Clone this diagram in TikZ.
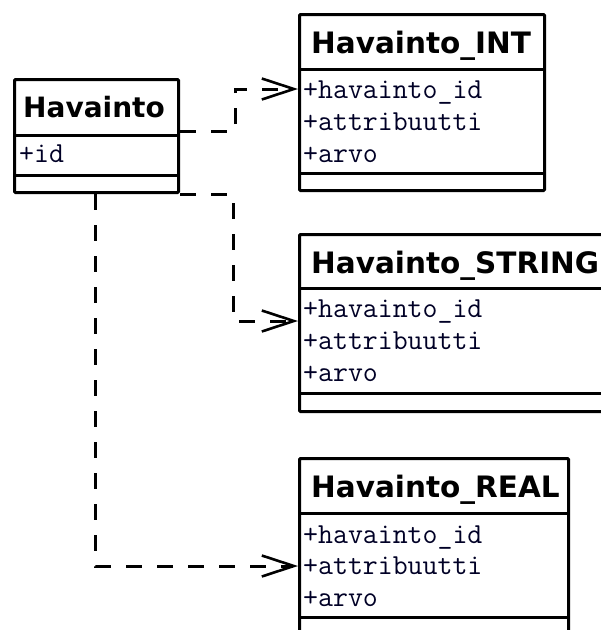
\documentclass[tikz,border=0pt]{standalone}
\usepackage{fontspec}
\setmainfont{DejaVu Sans}
\usetikzlibrary{arrows.meta}
\begin{document}
\begin{tikzpicture}[x=1pt,y=-1pt,
  classbox/.style={draw,line width=3pt,rounded corners=1pt,rectangle,inner sep=0pt,anchor=north west},
  sepline/.style={line width=3pt},
  title/.style={anchor=base west,inner sep=0pt,font=\fontsize{29.5}{31}\selectfont\bfseries},
  maintitle/.style={title,font=\fontsize{28}{30}\selectfont\bfseries},
  attr/.style={anchor=base west,inner sep=0pt,font=\ttfamily\fontsize{29}{31}\selectfont,text=black!85!blue},
  dep/.style={line width=3pt,dash pattern=on 16pt off 15pt,-{Straight Barb[length=32pt,width=21pt,line width=2.6pt]}}
]
\useasboundingbox (0,0) rectangle (601,630);
\clip (0,0) rectangle (601,630);
\fill[white] (0,0) rectangle (601,630);

% Havainto
\node[classbox,minimum width=164pt,minimum height=113pt] (hav) at (13,78) {};
\draw[sepline] ([yshift=-57pt]hav.north west) -- ([yshift=-57pt]hav.north east);
\draw[sepline] ([yshift=-97pt]hav.north west) -- ([yshift=-97pt]hav.north east);
\node[maintitle] (havT) at ([xshift=10pt,yshift=-39pt]hav.north west) {Havainto};
\node[attr] (havA) at ([xshift=6pt,yshift=-84pt]hav.north west) {+id};

% Havainto_INT
\node[classbox,minimum width=245pt,minimum height=176pt] (int) at (298,13) {};
\draw[sepline] ([yshift=-56pt]int.north west) -- ([yshift=-56pt]int.north east);
\draw[sepline] ([yshift=-160pt]int.north west) -- ([yshift=-160pt]int.north east);
\node[title] (intT) at ([xshift=13pt,yshift=-40pt]int.north west) {Havainto\_INT};
\node[attr] (intA1) at ([xshift=5pt,yshift=-85pt]int.north west) {+havainto\_id};
\node[attr] (intA2) at ([xshift=5pt,yshift=-117pt]int.north west) {+attribuutti};
\node[attr] (intA3) at ([xshift=5pt,yshift=-149pt]int.north west) {+arvo};

% Havainto_STRING
\node[classbox,minimum width=330pt,minimum height=177pt] (str) at (298,233) {};
\draw[sepline] ([yshift=-55pt]str.north west) -- ([yshift=-55pt]str.north east);
\draw[sepline] ([yshift=-160pt]str.north west) -- ([yshift=-160pt]str.north east);
\node[title] (strT) at ([xshift=13pt,yshift=-40pt]str.north west) {Havainto\_STRING};
\node[attr] (strA1) at ([xshift=5pt,yshift=-84pt]str.north west) {+havainto\_id};
\node[attr] (strA2) at ([xshift=5pt,yshift=-116pt]str.north west) {+attribuutti};
\node[attr] (strA3) at ([xshift=5pt,yshift=-148pt]str.north west) {+arvo};

% Havainto_REAL
\node[classbox,minimum width=269pt,minimum height=200pt] (real) at (298,457) {};
\draw[sepline] ([yshift=-56pt]real.north west) -- ([yshift=-56pt]real.north east);
\draw[sepline] ([yshift=-160pt]real.north west) -- ([yshift=-160pt]real.north east);
\node[title] (realT) at ([xshift=13pt,yshift=-40pt]real.north west) {Havainto\_REAL};
\node[attr] (realA1) at ([xshift=5pt,yshift=-86pt]real.north west) {+havainto\_id};
\node[attr] (realA2) at ([xshift=5pt,yshift=-117pt]real.north west) {+attribuutti};
\node[attr] (realA3) at ([xshift=5pt,yshift=-149pt]real.north west) {+arvo};

% dependencies
\draw[dep] ([yshift=-53pt]hav.north east) -- ++(55,0) |- ([yshift=-76pt]int.north west);
\draw[dep] (hav.south east) -- ++(53,0) |- ([yshift=-88pt]str.north west);
\draw[dep] ([xshift=82pt]hav.south west) |- ([yshift=-109pt]real.north west);
\end{tikzpicture}
\end{document}
